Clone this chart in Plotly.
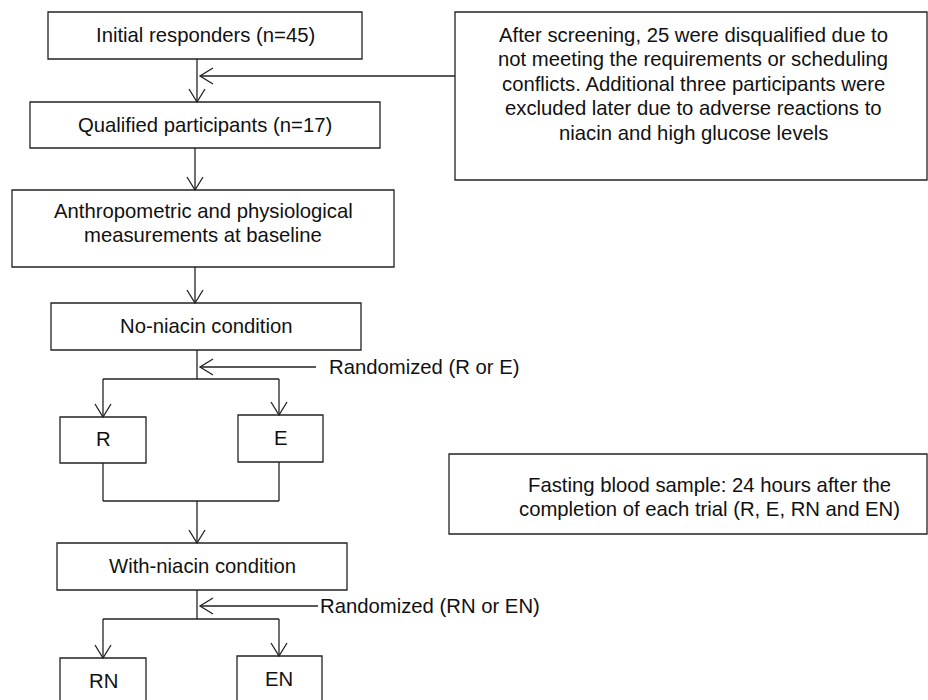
import plotly.graph_objects as go

# ---- flowchart content ----
node_labels = [
    ["Initial responders (n=45)"],
    ["Qualified participants (n=17)"],
    ["Anthropometric and physiological", "measurements at baseline"],
    ["No-niacin condition"],
    ["R"],
    ["E"],
    ["With-niacin condition"],
    ["RN"],
    ["EN"],
]
note_labels = [
    ["After screening, 25 were disqualified due to",
     "not meeting the requirements or scheduling",
     "conflicts. Additional three participants were",
     "excluded later due to adverse reactions to",
     "niacin and high glucose levels"],
    ["Fasting blood sample: 24 hours after the",
     "completion of each trial (R, E, RN and EN)"],
]
side_labels = ["Randomized (R or E)", "Randomized (RN or EN)"]

# ---- layout geometry (pixels, y down) ----
node_x0 = [48, 30, 12, 51, 60, 238, 57, 60, 237]
node_x1 = [362, 380, 394, 361, 146, 323, 347, 146, 322]
node_y0 = [12, 102, 190, 303, 417, 415, 543, 658, 656]
node_y1 = [59, 148, 267, 350, 463, 462, 590, 712, 712]
node_tx = [205, 205, 203, 206, 103, 281, 202, 103, 279]
node_ty = [35, 125, 210.5, 326, 439, 438, 566, 681, 679]

note_x0 = [455, 449]
note_x1 = [927, 927]
note_y0 = [12, 454]
note_y1 = [180, 534]
note_tx = [693, 709]
note_ty = [34.5, 484.5]

side_tx = [327, 318]
side_ty = [367, 606]

LINE_STEP = 24.5
FS = 20.3
LC = "#222222"
TC = "#111111"
LW = 1.3
AH_L, AH_W = 13, 8

shapes = []
annotations = []


def line(x0, y0, x1, y1):
    shapes.append(dict(type="line", x0=x0, y0=y0, x1=x1, y1=y1,
                       xref="x", yref="y", line=dict(color=LC, width=LW)))


def head_down(x, y):
    shapes.append(dict(type="path", path=f"M {x-AH_W},{y-AH_L} L {x},{y} L {x+AH_W},{y-AH_L}",
                       xref="x", yref="y", line=dict(color=LC, width=LW)))


def head_left(x, y):
    shapes.append(dict(type="path", path=f"M {x+AH_L},{y-AH_W} L {x},{y} L {x+AH_L},{y+AH_W}",
                       xref="x", yref="y", line=dict(color=LC, width=LW)))


def arrow_down(x, y0, y1):
    line(x, y0, x, y1)
    head_down(x, y1)


def text_lines(lines, x, y, anchor="center"):
    for k, t in enumerate(lines):
        annotations.append(dict(x=x, y=y + k * LINE_STEP, text=t, showarrow=False,
                                xref="x", yref="y", xanchor=anchor, yanchor="middle",
                                font=dict(size=FS, color=TC)))


def box(x0, x1, y0, y1):
    shapes.append(dict(type="rect", x0=x0, x1=x1, y0=y0, y1=y1,
                       xref="x", yref="y", line=dict(color=LC, width=LW),
                       fillcolor="white", layer="below"))


for i in range(len(node_labels)):
    box(node_x0[i], node_x1[i], node_y0[i], node_y1[i])
    text_lines(node_labels[i], node_tx[i], node_ty[i])
for i in range(len(note_labels)):
    box(note_x0[i], note_x1[i], note_y0[i], note_y1[i])
    text_lines(note_labels[i], note_tx[i], note_ty[i])
for i in range(len(side_labels)):
    text_lines([side_labels[i]], side_tx[i], side_ty[i], anchor="left")

# connectors
arrow_down(197, node_y1[0], node_y0[1])
line(200, 76, note_x0[0], 76)
head_left(200, 76)
arrow_down(195, node_y1[1], node_y0[2])
arrow_down(195, node_y1[2], node_y0[3])

line(197, node_y1[3], 197, 379)
line(200, side_ty[0], 316, side_ty[0])
head_left(200, side_ty[0])
line(103, 379, 279, 379)
arrow_down(103, 379, node_y0[4])
arrow_down(279, 379, node_y0[5])

line(103, node_y1[4], 103, 501)
line(279, node_y1[5], 279, 501)
line(103, 501, 279, 501)
arrow_down(197, 501, node_y0[6])

line(197, node_y1[6], 197, 619)
line(200, side_ty[1], side_tx[1], side_ty[1])
head_left(200, side_ty[1])
line(103, 619, 279, 619)
arrow_down(103, 619, node_y0[7])
arrow_down(279, 619, node_y0[8])

fig = go.Figure()
fig.update_layout(
    width=928, height=700,
    margin=dict(l=0, r=0, t=0, b=0),
    paper_bgcolor="white", plot_bgcolor="white",
    font=dict(family="Arial, Liberation Sans, sans-serif"),
    xaxis=dict(range=[0, 928], visible=False, fixedrange=True),
    yaxis=dict(range=[700, 0], visible=False, fixedrange=True),
    shapes=shapes, annotations=annotations, showlegend=False,
)
fig.write_html("out.html", config={"displayModeBar": False},
               post_script="document.body.style.margin='0px';document.body.style.overflow='hidden';")
